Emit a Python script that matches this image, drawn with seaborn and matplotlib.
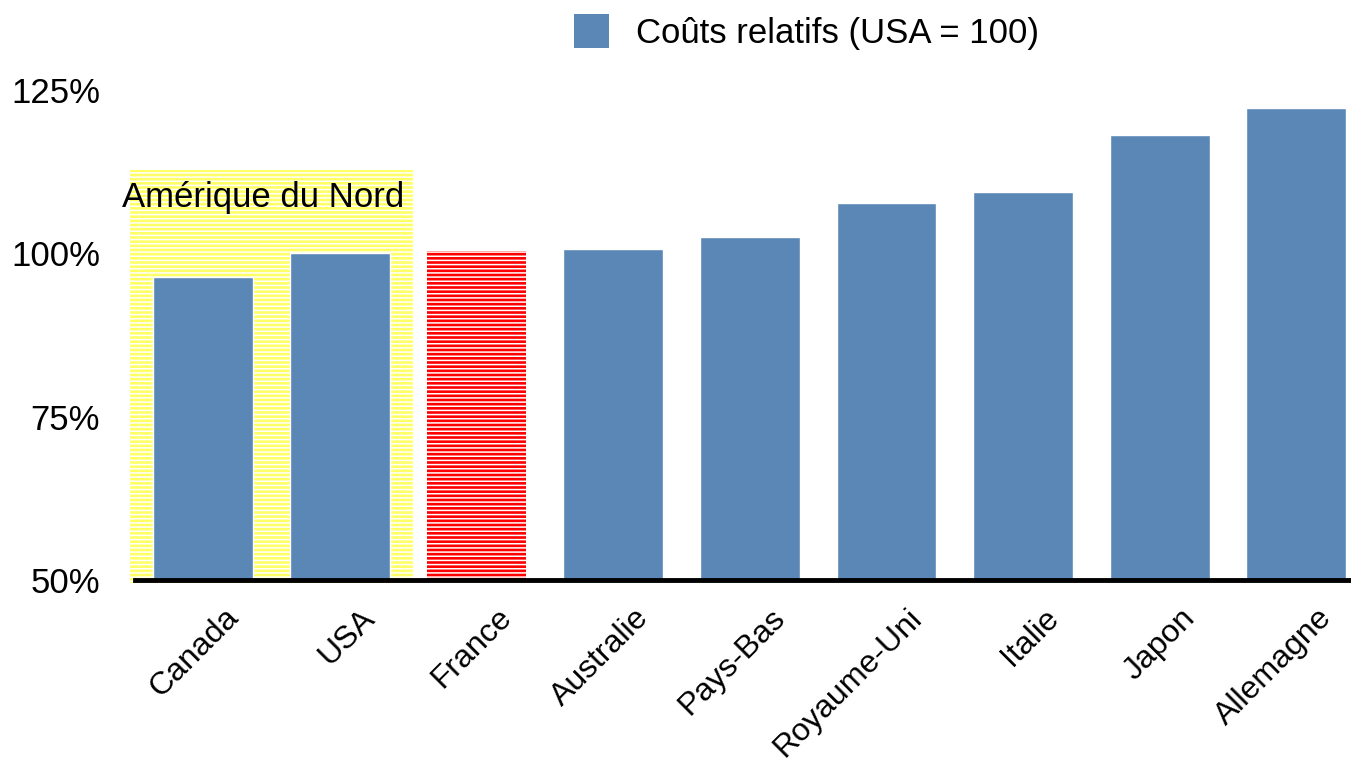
import matplotlib
matplotlib.use('Agg')
import matplotlib.pyplot as plt
import matplotlib.patches as mpatches
import matplotlib.transforms as mtransforms
import seaborn as sns
import pandas as pd

# Data
countries = ['Canada', 'USA', 'France', 'Australie', 'Pays-Bas',
             'Royaume-Uni', 'Italie', 'Japon', 'Allemagne']
relative_cost = [96.4, 100.0, 100.3, 100.7, 102.5, 107.7, 109.4, 118.1, 122.2]
y_ticks = [50, 75, 100, 125]
y_tick_labels = ['50%', '75%', '100%', '125%']
legend_label = 'Coûts relatifs (USA = 100)'
region_label = 'Amérique du Nord'
region_top = 112.8

bar_blue = '#5b87b7'

sns.set_style('white')
plt.rcParams['font.family'] = ['Liberation Sans', 'DejaVu Sans']
plt.rcParams['hatch.linewidth'] = 1.1
plt.rcParams['text.color'] = 'black'
plt.rcParams['xtick.color'] = 'black'
plt.rcParams['ytick.color'] = 'black'

df = pd.DataFrame({'pays': countries, 'cout': relative_cost})

fig = plt.figure(figsize=(13.51, 7.67), dpi=100)
ax = fig.add_axes([0.0999, 0.2438, 0.9001, 0.6389])

sns.barplot(data=df, x='pays', y='cout', color=bar_blue, width=0.73,
            saturation=1, ax=ax, zorder=3)

# highlight France
france = ax.patches[countries.index('France')]
france.set_facecolor('#ff0000')
france.set_edgecolor('white')
france.set_linewidth(0)
france.set_hatch('----')

# yellow striped block behind North America
band = mpatches.Rectangle((-0.535, 49.5), 2.07, region_top - 49.5,
                          facecolor='#ffff66', edgecolor='white', linewidth=0,
                          hatch='----', zorder=1, clip_on=False)
ax.add_patch(band)
ax.text(0.44, 108.6, region_label, ha='center', va='center', fontsize=25,
        color='black', zorder=4)

ax.set_xlim(-0.5, 8.4)
ax.set_ylim(50, 125)
ax.set_yticks(y_ticks)
ax.set_yticklabels(y_tick_labels, fontsize=25)
ax.tick_params(axis='y', length=0, pad=25)
ax.tick_params(axis='x', length=0, pad=24)
ax.set_xlabel('')
ax.set_ylabel('')

offset = mtransforms.ScaledTranslation(0.31, 0, fig.dpi_scale_trans)
for lab in ax.get_xticklabels():
    lab.set_rotation(45)
    lab.set_ha('right')
    lab.set_va('center')
    lab.set_rotation_mode('anchor')
    lab.set_fontsize(23)
    lab.set_transform(lab.get_transform() + offset)

for side in ['top', 'right', 'left']:
    ax.spines[side].set_visible(False)
ax.spines['bottom'].set_color('black')
ax.spines['bottom'].set_linewidth(3.5)
ax.spines['bottom'].set_zorder(5)

handle = mpatches.Patch(facecolor=bar_blue, edgecolor='none')
fig.legend(handles=[handle], labels=[legend_label], loc='upper center',
           bbox_to_anchor=(0.597, 1.022), frameon=False, fontsize=25,
           handlelength=1.0, handleheight=1.1, handletextpad=0.8)

fig.savefig('out.png', dpi=100)
plt.close(fig)
